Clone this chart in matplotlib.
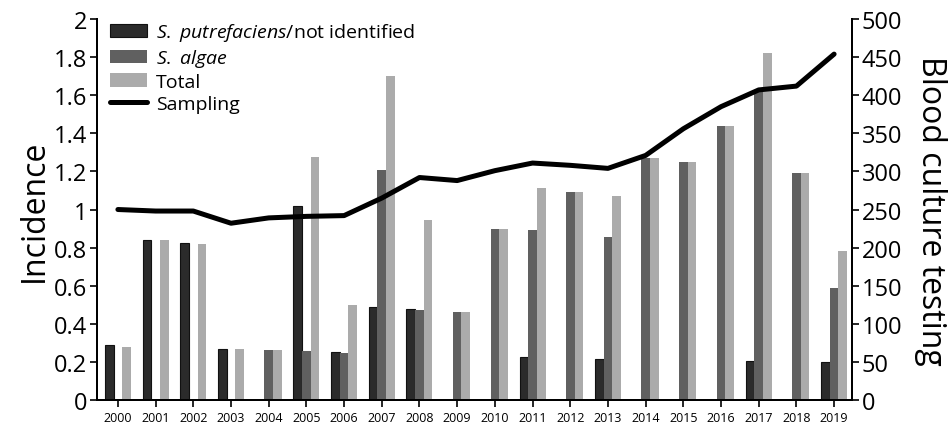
import matplotlib.pyplot as plt
import numpy as np

plt.rcParams['font.family'] = ['Open Sans', 'DejaVu Sans']
plt.rcParams['mathtext.fontset'] = 'custom'
plt.rcParams['mathtext.it'] = 'Open Sans:italic'
plt.rcParams['mathtext.rm'] = 'Open Sans'

years = [str(y) for y in range(2000, 2020)]
putrefaciens = [0.29, 0.84, 0.825, 0.27, 0, 1.02, 0.25, 0.49, 0.475, 0,
                0, 0.228, 0, 0.214, 0, 0, 0, 0.204, 0, 0.198]
algae = [0, 0, 0, 0, 0.26, 0.255, 0.245, 1.21, 0.47, 0.46,
         0.90, 0.89, 1.09, 0.856, 1.268, 1.25, 1.44, 1.625, 1.19, 0.586]
total = [0.28, 0.84, 0.82, 0.265, 0.26, 1.275, 0.50, 1.70, 0.945, 0.46,
         0.90, 1.115, 1.09, 1.07, 1.27, 1.25, 1.44, 1.82, 1.19, 0.78]
sampling = [250, 248, 248, 232, 239, 241, 242, 265, 292, 288,
            301, 311, 308, 304, 321, 356, 385, 407, 412, 454]

fig = plt.figure(figsize=(9.49, 4.27), dpi=100)
ax = fig.add_axes([0.102, 0.061, 0.796, 0.892])
ax2 = ax.twinx()

x = np.arange(len(years))
w = 0.23
b1 = ax.bar(x - w, putrefaciens, w, color='#2b2b2b', edgecolor='#111111', linewidth=0.8)
b2 = ax.bar(x, algae, w, color='#606060')
b3 = ax.bar(x + w, total, w, color='#ababab')
ln, = ax2.plot(x, sampling, color='black', lw=3.6, solid_capstyle='round',
               solid_joinstyle='round')

ax.set_xlim(-0.56, 19.48)
ax.set_ylim(0, 2)
ax.set_yticks(np.arange(0, 2.01, 0.2))
ax.set_yticklabels(['0', '0.2', '0.4', '0.6', '0.8', '1', '1.2', '1.4', '1.6', '1.8', '2'])
ax.set_xticks(x)
ax.set_xticklabels(years, fontsize=9)
ax.tick_params(axis='y', labelsize=17, length=5, width=1.2, pad=2)
ax.tick_params(axis='x', length=5, width=1.2, pad=3)
ax.set_ylabel('Incidence', fontsize=23, labelpad=2)

ax2.set_ylim(0, 500)
ax2.set_yticks(np.arange(0, 501, 50))
ax2.tick_params(axis='y', labelsize=17, length=5, width=1.2, pad=2)
ax2.set_ylabel('Blood culture testing', fontsize=23, rotation=270, labelpad=32)

for a in (ax, ax2):
    a.spines['top'].set_visible(False)
    for s in ('left', 'right', 'bottom'):
        a.spines[s].set_linewidth(1.4)

labels = ['$\\it{S.}$ $\\it{putrefaciens}$/not identified', '$\\it{S.}$ $\\it{algae}$',
          'Total', 'Sampling']
ax2.legend([b1, b2, b3, ln], labels,
           loc='upper left', bbox_to_anchor=(0.0, 1.03), frameon=False, fontsize=14,
           handlelength=1.9, handleheight=0.7, labelspacing=0.2, handletextpad=0.45,
           borderaxespad=0.3)

fig.savefig('out.png', dpi=100)
